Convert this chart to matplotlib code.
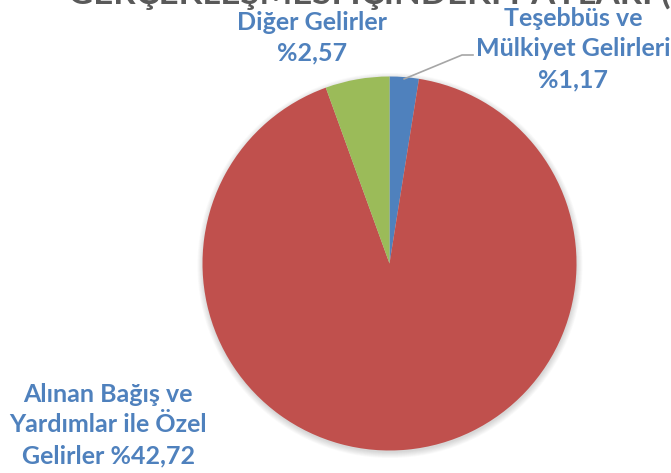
import matplotlib
matplotlib.use('Agg')
import matplotlib.pyplot as plt
import numpy as np
from matplotlib.patches import Circle

plt.rcParams['font.family'] = ['Lato', 'DejaVu Sans']

categories = ['Teşebbüs ve Mülkiyet Gelirleri',
              'Alınan Bağış ve Yardımlar ile Özel Gelirler',
              'Diğer Gelirler']
shares = [1.17, 42.72, 2.57]
label_texts = ['Teşebbüs ve\nMülkiyet Gelirleri\n%1,17',
               'Alınan Bağış ve\nYardımlar ile Özel\nGelirler %42,72',
               'Diğer Gelirler\n%2,57']
colors = ['#4F81BD', '#C0504D', '#9BBB59']
title = 'GERÇEKLEŞMESİ İÇİNDEKİ PAYLARI (%)'

W, H = 671, 473
fig = plt.figure(figsize=(W / 100, H / 100), dpi=100)
ax = fig.add_axes([0, 0, 1, 1])

cx, cy, r = 389.5, H - 263.5, 187

# soft shadow
for i in range(8):
    ax.add_patch(Circle((cx + 0.5, cy - 2), r + 0.8 * i, color='black',
                        alpha=0.018, lw=0, zorder=0))

wedges, _ = ax.pie(shares, colors=colors, startangle=90, counterclock=False,
                   center=(cx, cy), radius=r, frame=True,
                   wedgeprops=dict(linewidth=0))
for w in wedges:
    w.set_zorder(2)

ax.set_xlim(0, W)
ax.set_ylim(0, H)
ax.set_aspect('equal')
ax.axis('off')

label_color = '#4F81BD'
fs = 18
# label positions (image px centers)
label_pos = [(573, 49), (108, 425), (312, 37.5)]
for txt, (x, y) in zip(label_texts, label_pos):
    ax.text(x, H - y, txt, ha='center', va='center', multialignment='center',
            fontsize=fs, fontweight='bold', color=label_color, linespacing=1.42,
            zorder=5, clip_on=False)

# leader line for first slice
w0 = wedges[0]
mid = np.deg2rad((w0.theta1 + w0.theta2) / 2)
px, py = cx + r * 0.99 * np.cos(mid), cy + r * 0.99 * np.sin(mid)
ax.plot([px, 462, 473], [py, H - 55, H - 55], color='#A6A6A6', lw=1.2, zorder=4)

ax.text(68, H - 4, title, ha='left', va='baseline', fontsize=25,
        fontweight='bold', color='#595959', clip_on=False)

fig.savefig('out.png', dpi=100)
